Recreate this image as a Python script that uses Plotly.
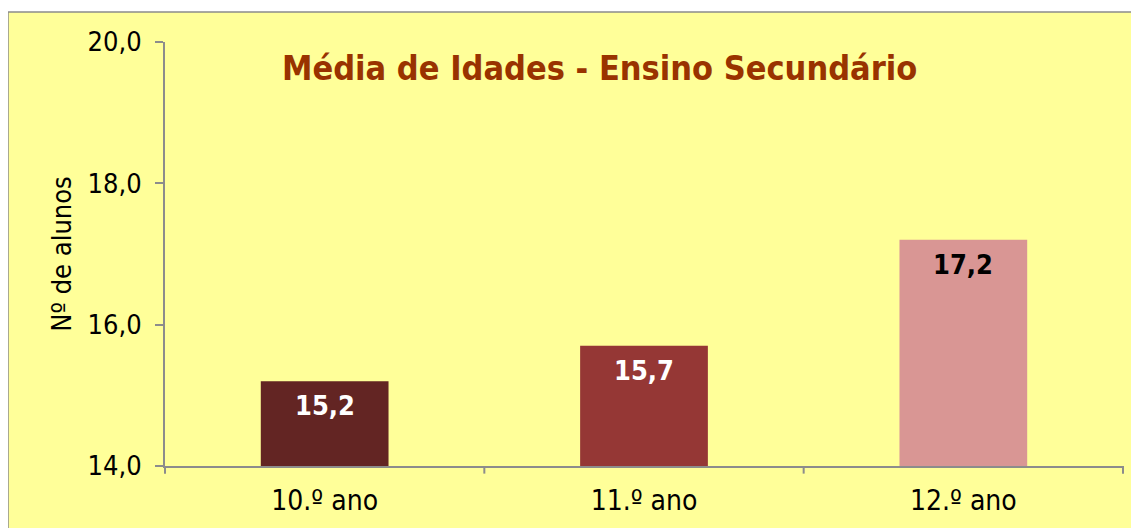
import plotly.graph_objects as go

# data
categories = ["10.º ano", "11.º ano", "12.º ano"]
ages = [15.2, 15.7, 17.2]
bar_colors = ["#632523", "#953735", "#D99694"]
label_colors = ["white", "white", "black"]

y_ticks = [14, 16, 18, 20]
font_family = "Tahoma, 'DejaVu Sans Condensed', 'DejaVu Sans', sans-serif"

fig = go.Figure()
fig.add_trace(go.Bar(
    x=categories, y=ages,
    marker=dict(color=bar_colors, line=dict(width=0)),
    width=0.4,
    hoverinfo="skip",
))

# value labels just under the top of each bar
for cat, val, col in zip(categories, ages, label_colors):
    fig.add_annotation(
        x=cat, y=val, yanchor="top", yshift=-7,
        text="<b>%s</b>" % ("%.1f" % val).replace(".", ","),
        showarrow=False,
        font=dict(family=font_family, size=27, color=col),
    )

# title
fig.add_annotation(
    xref="paper", yref="paper", x=0.454, y=0.939,
    xanchor="center", yanchor="middle",
    text="<b>Média de Idades - Ensino Secundário</b>",
    showarrow=False,
    font=dict(family=font_family, size=34, color="#993300"),
)

# chart area frame (runs off the right and bottom edges)
fig.add_shape(
    type="rect", xref="paper", yref="paper",
    x0=-0.1639, x1=1.2, y0=-0.3, y1=1.0708,
    fillcolor="#FFFF99", line=dict(color="#8C8C8C", width=1.5),
    layer="below",
)

fig.update_layout(
    width=1131, height=520,
    margin=dict(l=157, r=16, t=34, b=62),
    paper_bgcolor="white",
    plot_bgcolor="rgba(0,0,0,0)",
    separators=",.",
    showlegend=False,
    bargap=0.6,
    font=dict(family=font_family, size=24, color="black"),
    xaxis=dict(
        showline=True, linecolor="#8C8C8C", linewidth=2,
        ticks="", showgrid=False,
        tickfont=dict(size=28), ticklabelstandoff=8,
    ),
    yaxis=dict(
        range=[14, 20], tickvals=y_ticks, tickformat=".1f",
        showline=True, linecolor="#8C8C8C", linewidth=2,
        ticks="outside", ticklen=8, tickcolor="#8C8C8C", tickwidth=2,
        showgrid=False, zeroline=False,
        tickfont=dict(size=27), ticklabelstandoff=8,
        title=dict(text="Nº de alunos", font=dict(size=27), standoff=8),
    ),
)

# category divider ticks along the x axis
for i in range(len(categories) + 1):
    fig.add_shape(
        type="line", xref="paper", yref="paper",
        x0=i / len(categories), x1=i / len(categories), y0=0, y1=-0.018,
        line=dict(color="#8C8C8C", width=2),
    )

fig.write_html("out.html")
